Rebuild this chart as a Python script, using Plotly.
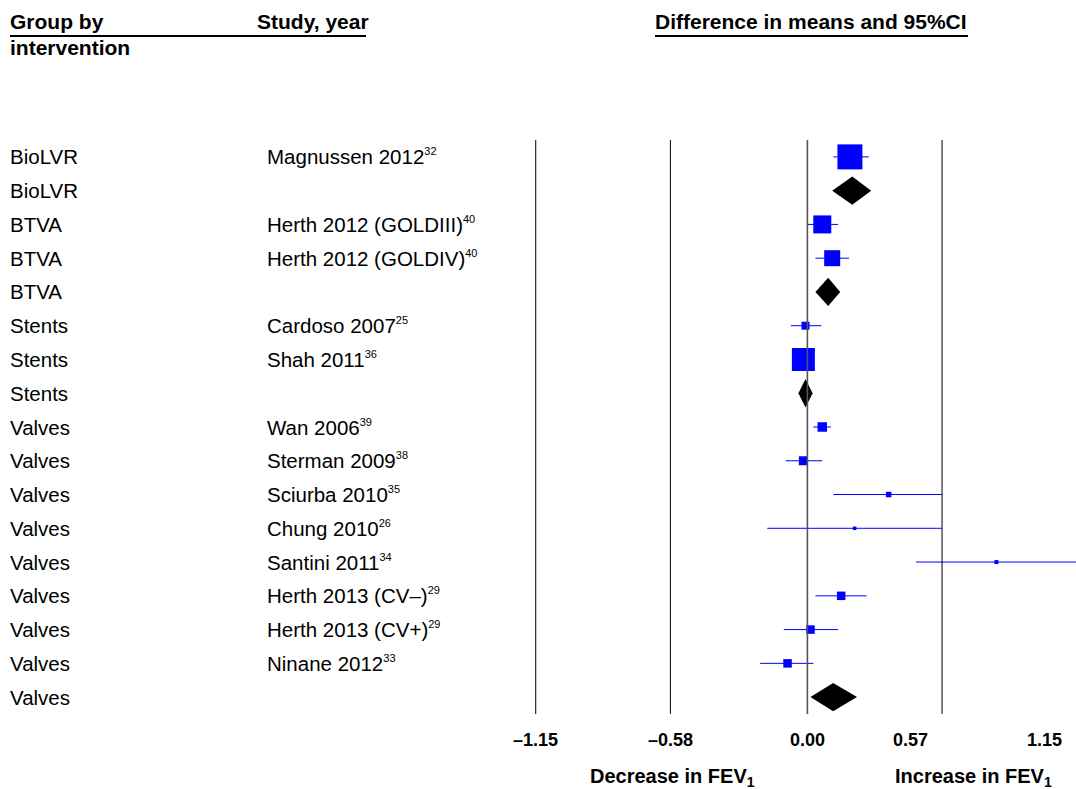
import plotly.graph_objects as go

# ---------------- data ----------------
groups = ["BioLVR", "BioLVR", "BTVA", "BTVA", "BTVA", "Stents", "Stents", "Stents",
          "Valves", "Valves", "Valves", "Valves", "Valves", "Valves", "Valves", "Valves", "Valves"]
studies = ["Magnussen 2012", "", "Herth 2012 (GOLDIII)", "Herth 2012 (GOLDIV)", "",
           "Cardoso 2007", "Shah 2011", "", "Wan 2006", "Sterman 2009", "Sciurba 2010",
           "Chung 2010", "Santini 2011", "Herth 2013 (CV\u2013)", "Herth 2013 (CV+)",
           "Ninane 2012", ""]
refs = ["32", "", "40", "40", "", "25", "36", "", "39", "38", "35", "26", "34", "29", "29", "33", ""]

# individual studies: row index, mean difference, lower CI, upper CI, weight (square size)
study_rows = [0, 2, 3, 5, 6, 8, 9, 10, 11, 12, 13, 14, 15]
study_mean = [0.18, 0.063, 0.105, -0.008, -0.017, 0.063, -0.017, 0.344, 0.20, 0.80, 0.143, 0.013, -0.084]
study_lo = [0.11, 0.0, 0.034, -0.07, -0.05, 0.025, -0.092, 0.11, -0.17, 0.46, 0.034, -0.10, -0.20]
study_hi = [0.26, 0.13, 0.176, 0.059, 0.02, 0.10, 0.063, 0.57, 0.57, 1.20, 0.25, 0.13, 0.025]
study_weight = [25, 18, 16, 8, 23, 9.5, 9, 5.5, 3.5, 4, 8.5, 8.5, 8.5]

# pooled (subgroup) estimates
pooled_rows = [1, 4, 7, 16]
pooled_mean = [0.19, 0.088, -0.008, 0.109]
pooled_lo = [0.105, 0.034, -0.038, 0.013]
pooled_hi = [0.27, 0.139, 0.022, 0.21]

tick_vals = [-1.15, -0.58, 0.0, 0.57, 1.15]
tick_text = ["\u20131.15", "\u20130.58", "0.00", "0.57", "1.15"]
tick_label_shift = [0, 0, 0, -32, -35]
grid_vals = [-1.15, -0.58, 0.57]

# ---------------- layout geometry ----------------
W, H = 1076, 789
L, R, T, B = 531, 0, 140, 75
PW, PH = W - L - R, H - T - B
XMIN, XMAX = -1.17, 1.137
NROWS = len(groups)
DIAMOND_HALF = 0.42
FONT = "Liberation Sans, Arial, sans-serif"


def xp(px):
    return (px - L) / PW


def yp(py):
    return (H - B - py) / PH


def val_to_px(v):
    return L + (v - XMIN) / (XMAX - XMIN) * PW


fig = go.Figure()

# vertical reference lines
for v in grid_vals:
    fig.add_shape(type="line", xref="x", yref="paper", x0=v, x1=v, y0=0, y1=1,
                  line=dict(color="black", width=1))
fig.add_shape(type="line", xref="x", yref="paper", x0=0, x1=0, y0=0, y1=1,
              line=dict(color="#555555", width=1.6))

# study squares with CIs
fig.add_trace(go.Scatter(
    x=study_mean, y=study_rows, mode="markers",
    marker=dict(symbol="square", size=study_weight, color="#0000ff", opacity=1,
                line=dict(width=0)),
    error_x=dict(type="data", symmetric=False,
                 array=[h - m for h, m in zip(study_hi, study_mean)],
                 arrayminus=[m - l for m, l in zip(study_mean, study_lo)],
                 color="#0000ff", thickness=1, width=0),
    hoverinfo="skip", showlegend=False))

# pooled diamonds
for r, m, lo, hi in zip(pooled_rows, pooled_mean, pooled_lo, pooled_hi):
    fig.add_trace(go.Scatter(
        x=[lo, m, hi, m, lo], y=[r, r - DIAMOND_HALF, r, r + DIAMOND_HALF, r],
        mode="lines", fill="toself", fillcolor="black", line=dict(width=0, color="black"),
        hoverinfo="skip", showlegend=False))

ann = []
body_font = dict(family=FONT, size=20.5, color="black")
bold_font = dict(family=FONT, size=21, color="black")

# row labels
for i in range(NROWS):
    ann.append(dict(xref="paper", yref="y", x=xp(8), y=i, text=groups[i],
                    xanchor="left", yanchor="middle", showarrow=False, font=body_font))
    if studies[i]:
        txt = studies[i]
        if refs[i]:
            txt += "<sup><span style='font-size:11px'>" + refs[i] + "</span></sup>"
        ann.append(dict(xref="paper", yref="y", x=xp(265), y=i, text=txt,
                        xanchor="left", yanchor="middle", showarrow=False, font=body_font))

# headers
ann.append(dict(xref="paper", yref="paper", x=xp(8), y=yp(22), text="<b>Group by</b>",
                xanchor="left", yanchor="middle", showarrow=False, font=bold_font))
ann.append(dict(xref="paper", yref="paper", x=xp(8), y=yp(47), text="<b>intervention</b>",
                xanchor="left", yanchor="middle", showarrow=False, font=bold_font))
ann.append(dict(xref="paper", yref="paper", x=xp(255), y=yp(22), text="<b>Study, year</b>",
                xanchor="left", yanchor="middle", showarrow=False, font=bold_font))
ann.append(dict(xref="paper", yref="paper", x=xp(811), y=yp(22),
                text="<b>Difference in means and 95%CI</b>",
                xanchor="center", yanchor="middle", showarrow=False, font=bold_font))

# header underlines
fig.add_shape(type="line", xref="paper", yref="paper", x0=xp(10), x1=xp(366), y0=yp(36), y1=yp(36),
              line=dict(color="black", width=2))
fig.add_shape(type="line", xref="paper", yref="paper", x0=xp(655), x1=xp(968), y0=yp(36), y1=yp(36),
              line=dict(color="black", width=2))

# tick labels
for v, t, s in zip(tick_vals, tick_text, tick_label_shift):
    ann.append(dict(xref="paper", yref="paper", x=xp(val_to_px(v)), y=yp(740), text="<b>" + t + "</b>",
                    xanchor="center", yanchor="middle", xshift=s, showarrow=False,
                    font=dict(family=FONT, size=18, color="black")))

# footer
ann.append(dict(xref="paper", yref="paper", x=xp(672), y=yp(777),
                text="<b>Decrease in FEV<sub>1</sub></b>", xanchor="center", yanchor="middle",
                showarrow=False, font=dict(family=FONT, size=20, color="black")))
ann.append(dict(xref="paper", yref="paper", x=xp(973), y=yp(777),
                text="<b>Increase in FEV<sub>1</sub></b>", xanchor="center", yanchor="middle",
                showarrow=False, font=dict(family=FONT, size=20, color="black")))

fig.update_layout(
    width=W, height=H,
    margin=dict(l=L, r=R, t=T, b=B),
    paper_bgcolor="white", plot_bgcolor="white",
    xaxis=dict(range=[XMIN, XMAX], visible=False, fixedrange=True),
    yaxis=dict(range=[NROWS - 0.5, -0.5], visible=False, fixedrange=True),
    annotations=ann,
    showlegend=False,
)

fig.write_html("out.html", config={"displayModeBar": False},
               post_script="document.body.style.margin='0';document.body.style.overflow='hidden';")
